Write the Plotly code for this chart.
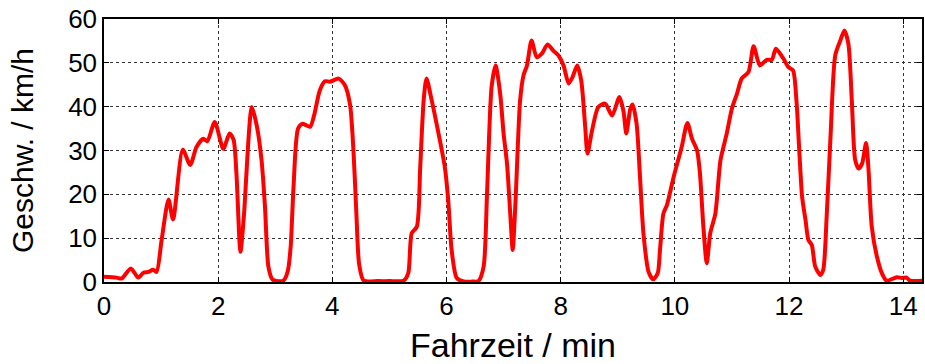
import plotly.graph_objects as go

# Fahrzeit / min
t_min = [0.00, 0.22, 0.31, 0.47, 0.60, 0.69, 0.78, 0.86, 0.92, 1.01, 1.13, 1.21, 1.38, 1.51,
         1.62, 1.74, 1.81, 1.94, 2.09, 2.20, 2.27, 2.32, 2.39, 2.45, 2.59, 2.68, 2.76, 2.82,
         2.88, 2.95, 3.05, 3.15, 3.22, 3.27, 3.32, 3.40, 3.48, 3.61, 3.68, 3.78, 3.87, 3.96,
         4.11, 4.22, 4.31, 4.37, 4.42, 4.47, 4.55, 4.80, 5.00, 5.25, 5.33, 5.39, 5.48, 5.54,
         5.60, 5.65, 5.74, 5.86, 5.97, 6.03, 6.09, 6.18, 6.30, 6.45, 6.56, 6.65, 6.71, 6.79,
         6.86, 6.94, 7.00, 7.06, 7.12, 7.16, 7.21, 7.29, 7.35, 7.41, 7.49, 7.58, 7.67, 7.77,
         7.87, 7.96, 8.05, 8.14, 8.21, 8.29, 8.36, 8.43, 8.47, 8.55, 8.66, 8.78, 8.90, 9.03,
         9.10, 9.15, 9.22, 9.26, 9.33, 9.39, 9.45, 9.54, 9.62, 9.70, 9.74, 9.80, 9.86, 9.98,
         10.12, 10.22, 10.30, 10.39, 10.44, 10.50, 10.56, 10.62, 10.71, 10.80, 10.91, 11.00,
         11.09, 11.17, 11.29, 11.38, 11.49, 11.61, 11.70, 11.77, 11.90, 11.99, 12.07, 12.13,
         12.18, 12.23, 12.29, 12.34, 12.40, 12.46, 12.55, 12.60, 12.66, 12.73, 12.81, 12.90,
         12.97, 13.04, 13.10, 13.16, 13.22, 13.28, 13.35, 13.39, 13.45, 13.54, 13.63, 13.71,
         13.89, 13.98, 14.06, 14.12, 14.37]

# Geschwindigkeit / km/h
v_kmh = [1.2, 1.0, 0.8, 3.1, 1.0, 2.1, 2.3, 2.8, 2.3, 9.6, 18.8, 14.3, 30.2, 26.7,
         30.8, 32.7, 32.1, 36.5, 30.4, 33.9, 32.4, 24.8, 6.9, 14.9, 39.9, 35.4, 27.8, 17.2,
         3.5, 0.6, 0.2, 0.4, 2.5, 8.0, 21.7, 35.0, 36.1, 35.4, 38.0, 43.7, 45.8, 45.7,
         46.4, 44.9, 40.5, 30.0, 16.0, 4.0, 0.3, 0.2, 0.2, 0.3, 2.0, 11.1, 12.6, 26.3,
         41.5, 46.4, 41.5, 33.9, 26.3, 18.7, 7.3, 0.9, 0.1, 0.1, 0.2, 3.5, 20.2, 44.5,
         49.4, 43.0, 33.9, 27.0, 14.9, 7.3, 18.7, 41.5, 47.2, 49.4, 55.1, 51.3, 52.1, 54.2,
         52.8, 51.7, 49.4, 45.3, 46.8, 49.4, 46.0, 35.4, 29.3, 34.6, 39.9, 40.7, 38.0, 42.2,
         39.0, 33.9, 39.5, 40.5, 36.1, 24.0, 11.1, 2.3, 0.6, 2.0, 7.3, 15.6, 17.5, 24.0,
         30.8, 36.3, 32.7, 30.0, 24.8, 12.6, 4.3, 11.1, 15.6, 27.8, 33.9, 39.6,
         43.0, 46.4, 47.9, 53.8, 49.4, 50.7, 50.7, 53.2, 51.0, 49.0, 48.3, 41.5,
         30.0, 19.4, 14.1, 9.6, 8.4, 3.5, 1.6, 2.8, 14.9, 33.9, 51.7, 55.1,
         57.4, 54.4, 41.5, 27.8, 25.9, 27.0, 31.7, 26.3, 12.6, 5.8, 1.9, 0.3,
         1.1, 0.9, 1.0, 0.3, 0.3]

x_ticks = [0, 2, 4, 6, 8, 10, 12, 14]
y_ticks = [0, 10, 20, 30, 40, 50, 60]

fig = go.Figure()
fig.add_trace(go.Scatter(
    x=t_min, y=v_kmh, mode="lines",
    line=dict(color="#ff0000", width=4, shape="spline", smoothing=0.7),
    hoverinfo="skip", showlegend=False,
))

axis_common = dict(
    showline=True, linecolor="black", linewidth=1.5, mirror="ticks",
    ticks="inside", ticklen=5, tickcolor="black", tickwidth=1,
    showgrid=True, gridcolor="#333333", gridwidth=1, griddash="dot",
    zeroline=False, automargin=False, ticklabeloverflow="allow",
)

fig.update_layout(
    width=925, height=364,
    margin=dict(l=104, r=3, t=19, b=82),
    paper_bgcolor="white", plot_bgcolor="white",
    font=dict(family="Liberation Sans", color="black"),
    xaxis=dict(
        range=[0, 14.33], tickvals=x_ticks, ticktext=[str(v) for v in x_ticks],
        tickfont=dict(size=26),
        title=dict(text="Fahrzeit / min", font=dict(size=34), standoff=16),
        **axis_common,
    ),
    yaxis=dict(
        range=[0, 60], tickvals=y_ticks, ticktext=[str(v) for v in y_ticks],
        tickfont=dict(size=26),
        title=dict(text="Geschw. / km/h", font=dict(size=30), standoff=26),
        **axis_common,
    ),
)

# remove the browser's default 8px body margin so the figure fills the window
fig.write_html("out.html", config={"displayModeBar": False},
               post_script="document.body.style.margin='0';")
